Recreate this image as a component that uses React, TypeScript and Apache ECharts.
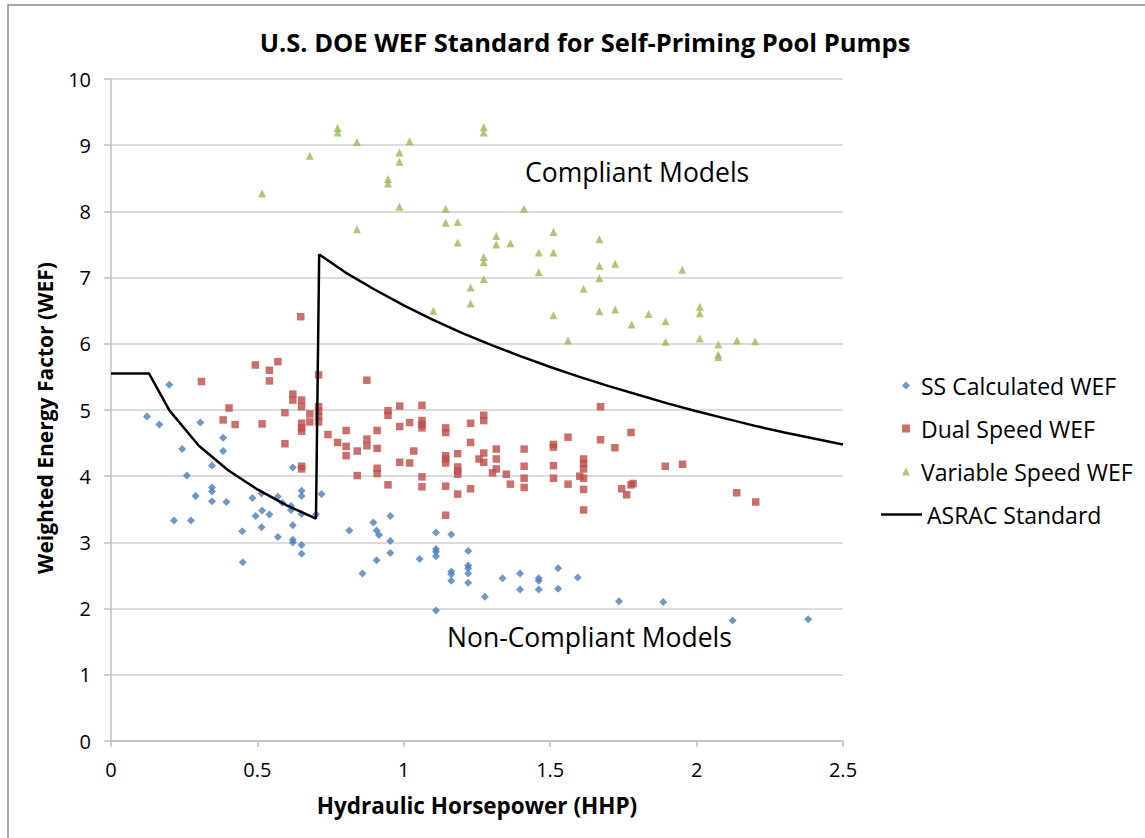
import React, { useEffect, useRef } from "react";
import * as echarts from "echarts";

const titleText = "U.S. DOE WEF Standard for Self-Priming Pool Pumps";
const xAxisName = "Hydraulic Horsepower (HHP)";
const yAxisName = "Weighted Energy Factor (WEF)";
const seriesNames = ["SS Calculated WEF", "Dual Speed WEF", "Variable Speed WEF", "ASRAC Standard"];
const annotations = ["Compliant Models", "Non-Compliant Models"];

const ssData: number[][] = [
  [0.123, 4.9], [0.165, 4.78], [0.199, 5.38], [0.215, 3.33], [0.243, 4.41], [0.259, 4.01], [0.273, 3.33],
  [0.289, 3.7], [0.305, 4.81], [0.345, 4.16], [0.345, 3.83], [0.345, 3.77], [0.345, 3.62], [0.383, 4.58],
  [0.383, 4.38], [0.394, 3.61], [0.448, 3.17], [0.45, 2.7], [0.483, 3.67], [0.494, 3.4], [0.514, 3.74],
  [0.514, 3.23], [0.516, 3.48], [0.541, 3.42], [0.57, 3.69], [0.57, 3.08], [0.585, 3.6], [0.615, 3.55],
  [0.615, 3.49], [0.621, 4.13], [0.621, 3.26], [0.621, 3.04], [0.621, 3.0], [0.651, 3.78], [0.651, 3.7],
  [0.651, 3.43], [0.651, 2.96], [0.651, 2.83], [0.7, 3.42], [0.719, 3.73], [0.814, 3.18], [0.859, 2.53],
  [0.896, 3.3], [0.907, 3.18], [0.907, 2.73], [0.915, 3.11], [0.954, 3.4], [0.954, 3.02], [0.954, 2.84],
  [1.054, 2.75], [1.11, 3.15], [1.11, 2.9], [1.11, 2.86], [1.11, 2.79], [1.11, 1.97], [1.162, 3.12],
  [1.162, 2.56], [1.162, 2.52], [1.162, 2.42], [1.22, 2.87], [1.22, 2.65], [1.22, 2.61], [1.22, 2.53],
  [1.22, 2.39], [1.277, 2.18], [1.337, 2.46], [1.397, 2.53], [1.397, 2.29], [1.461, 2.46], [1.461, 2.42],
  [1.461, 2.29], [1.527, 2.61], [1.527, 2.3], [1.594, 2.47], [1.735, 2.11], [1.886, 2.1], [2.123, 1.82],
  [2.381, 1.84],
];

const dualData: number[][] = [
  [0.309, 5.43], [0.383, 4.85], [0.403, 5.03], [0.424, 4.78], [0.493, 5.68], [0.516, 4.79], [0.541, 5.6],
  [0.541, 5.44], [0.57, 5.73], [0.594, 4.96], [0.594, 4.49], [0.621, 5.24], [0.621, 5.15], [0.648, 6.41],
  [0.651, 5.15], [0.651, 5.05], [0.651, 4.8], [0.651, 4.73], [0.651, 4.68], [0.651, 4.15], [0.651, 4.11],
  [0.679, 4.94], [0.679, 4.82], [0.709, 5.53], [0.709, 5.05], [0.709, 4.98], [0.709, 4.9], [0.709, 4.82],
  [0.741, 4.63], [0.774, 4.51], [0.803, 4.69], [0.803, 4.45], [0.803, 4.31], [0.841, 4.38], [0.841, 4.01],
  [0.874, 5.45], [0.874, 4.56], [0.874, 4.46], [0.909, 4.69], [0.909, 4.42], [0.909, 4.12], [0.909, 4.04],
  [0.946, 4.99], [0.946, 4.92], [0.946, 3.87], [0.986, 5.06], [0.986, 4.75], [0.986, 4.21], [1.02, 4.81],
  [1.02, 4.2], [1.034, 4.38], [1.062, 5.07], [1.062, 4.84], [1.062, 4.78], [1.062, 4.73], [1.062, 3.99],
  [1.062, 3.84], [1.143, 4.73], [1.143, 4.66], [1.143, 4.31], [1.143, 4.26], [1.143, 4.2], [1.143, 3.85],
  [1.143, 3.41], [1.184, 4.34], [1.184, 4.14], [1.184, 4.08], [1.184, 4.03], [1.184, 3.73], [1.228, 4.8],
  [1.228, 4.51], [1.228, 3.81], [1.257, 4.26], [1.273, 4.92], [1.273, 4.84], [1.273, 4.35], [1.273, 4.21],
  [1.303, 4.05], [1.316, 4.41], [1.316, 4.26], [1.316, 4.11], [1.35, 4.03], [1.364, 3.88], [1.411, 4.41],
  [1.411, 4.15], [1.411, 3.97], [1.411, 3.83], [1.511, 4.48], [1.511, 4.44], [1.511, 4.16], [1.511, 3.97],
  [1.561, 4.59], [1.561, 3.88], [1.601, 4.0], [1.614, 4.26], [1.614, 4.19], [1.614, 4.11], [1.614, 3.97],
  [1.614, 3.8], [1.614, 3.49], [1.672, 5.05], [1.672, 4.55], [1.721, 4.43], [1.744, 3.81], [1.761, 3.72],
  [1.776, 4.66], [1.776, 3.87], [1.783, 3.89], [1.893, 4.15], [1.952, 4.18], [2.137, 3.75], [2.202, 3.61],
];

const variableData: number[][] = [
  [0.516, 8.27], [0.679, 8.84], [0.774, 9.26], [0.774, 9.19], [0.84, 9.05], [0.84, 7.73], [0.946, 8.49],
  [0.946, 8.42], [0.985, 8.89], [0.985, 8.75], [0.985, 8.07], [1.02, 9.06], [1.101, 6.5], [1.143, 8.04],
  [1.143, 7.83], [1.184, 7.84], [1.184, 7.53], [1.228, 6.85], [1.228, 6.61], [1.273, 9.27], [1.273, 9.19],
  [1.273, 7.31], [1.273, 7.23], [1.273, 6.98], [1.316, 7.63], [1.316, 7.5], [1.364, 7.52], [1.41, 8.04],
  [1.461, 7.38], [1.461, 7.08], [1.511, 7.69], [1.511, 7.38], [1.511, 6.43], [1.561, 6.05], [1.614, 6.83],
  [1.668, 7.58], [1.668, 7.18], [1.668, 6.99], [1.668, 6.49], [1.722, 7.21], [1.722, 6.52], [1.778, 6.29],
  [1.836, 6.45], [1.894, 6.34], [1.894, 6.03], [1.951, 7.12], [2.011, 6.56], [2.011, 6.46], [2.011, 6.08],
  [2.074, 5.99], [2.074, 5.84], [2.074, 5.8], [2.138, 6.05], [2.2, 6.04],
];

const asracData: number[][] = [
  [0, 5.55], [0.13, 5.55], [0.2, 4.99], [0.3, 4.46], [0.4, 4.09], [0.5, 3.8], [0.6, 3.56], [0.7, 3.36],
  [0.711, 7.35], [0.8, 7.08], [0.9, 6.82], [1.0, 6.58], [1.1, 6.36], [1.2, 6.16], [1.3, 5.98], [1.4, 5.81],
  [1.5, 5.65], [1.6, 5.5], [1.7, 5.36], [1.8, 5.23], [1.9, 5.1], [2.0, 4.98], [2.1, 4.87], [2.2, 4.76],
  [2.3, 4.66], [2.4, 4.57], [2.5, 4.48],
];

const colors = ["#4a7ebb", "#be4b48", "#98b954", "#000000"];
const FONT = "'Open Sans', sans-serif";

export default function App() {
  const ref = useRef<HTMLDivElement>(null);
  useEffect(() => {
    if (!ref.current) return;
    const chart = echarts.init(ref.current, null, { renderer: "svg" });
    const legendText = { fontFamily: FONT, fontSize: 23, lineHeight: 23, color: "#000", padding: [0, 0, 0, 6] };
    chart.setOption({
      animation: false,
      backgroundColor: "#fff",
      title: {
        text: titleText,
        left: 580,
        textAlign: "center",
        top: 24,
        textStyle: { fontFamily: FONT, fontSize: 25.5, fontWeight: "bold", color: "#000" },
      },
      grid: { left: 111, right: 302, top: 79, bottom: 97 },
      legend: [
        {
          data: seriesNames.slice(0, 3),
          orient: "vertical",
          left: 897,
          top: 369,
          itemWidth: 8,
          itemHeight: 8,
          itemGap: 20,
          textStyle: legendText,
        },
        {
          data: [{ name: seriesNames[3], icon: "rect" }],
          orient: "vertical",
          left: 876,
          top: 498,
          itemWidth: 41,
          itemHeight: 2.5,
          textStyle: { ...legendText, padding: [0, 0, 0, 0] },
        },
      ],
      xAxis: {
        type: "value",
        min: 0,
        max: 2.5,
        interval: 0.5,
        name: xAxisName,
        nameLocation: "middle",
        nameGap: 53,
        nameTextStyle: { fontFamily: FONT, fontSize: 22.5, fontWeight: "bold", color: "#000" },
        axisLine: { lineStyle: { color: "#bfbfbf", width: 1.5 } },
        axisTick: { show: true, length: 6, lineStyle: { color: "#bfbfbf", width: 1.5 } },
        axisLabel: { fontFamily: FONT, fontSize: 20, color: "#000", margin: 18 },
        splitLine: { show: false },
      },
      yAxis: {
        type: "value",
        min: 0,
        max: 10,
        interval: 1,
        axisLine: { show: true, lineStyle: { color: "#bfbfbf", width: 1.5 } },
        axisTick: { show: true, length: 7, lineStyle: { color: "#bfbfbf", width: 1.5 } },
        axisLabel: { fontFamily: FONT, fontSize: 20, color: "#000", margin: 20 },
        splitLine: { show: true, lineStyle: { color: "#d0d0d0", width: 1.5 } },
      },
      series: [
        {
          name: seriesNames[0],
          type: "scatter",
          data: ssData,
          symbol: "diamond",
          symbolSize: 8,
          itemStyle: { color: colors[0] },
          z: 3,
        },
        {
          name: seriesNames[1],
          type: "scatter",
          data: dualData,
          symbol: "rect",
          symbolSize: 7.5,
          itemStyle: { color: colors[1] },
          z: 3,
        },
        {
          name: seriesNames[2],
          type: "scatter",
          data: variableData,
          symbol: "triangle",
          symbolSize: 8,
          itemStyle: { color: colors[2] },
          z: 3,
        },
        {
          name: seriesNames[3],
          type: "line",
          data: asracData,
          symbol: "none",
          lineStyle: { color: colors[3], width: 2.5 },
          itemStyle: { color: colors[3] },
          z: 4,
        },
      ],
      graphic: [
        {
          type: "rect",
          shape: { x: 8, y: 5, width: 1300, height: 1000 },
          style: { fill: "none", stroke: "#8c8c8c", lineWidth: 1.5 },
          silent: true,
        },
        {
          type: "text",
          x: 45,
          y: 418,
          rotation: Math.PI / 2,
          style: {
            text: yAxisName,
            fontFamily: FONT,
            fontSize: 21,
            fontWeight: "bold",
            fill: "#000",
            align: "center",
            verticalAlign: "middle",
          },
        },
        {
          type: "text",
          left: 525,
          top: 158,
          style: { text: annotations[0], fontFamily: FONT, fontSize: 26.5, fill: "#000" },
        },
        {
          type: "text",
          left: 447,
          top: 623,
          style: { text: annotations[1], fontFamily: FONT, fontSize: 26.5, fill: "#000" },
        },
      ],
    });
    return () => chart.dispose();
  }, []);
  return (
    <div
      ref={ref}
      style={{ position: "fixed", left: 0, top: 0, width: 1145, height: 838 }}
    />
  );
}
